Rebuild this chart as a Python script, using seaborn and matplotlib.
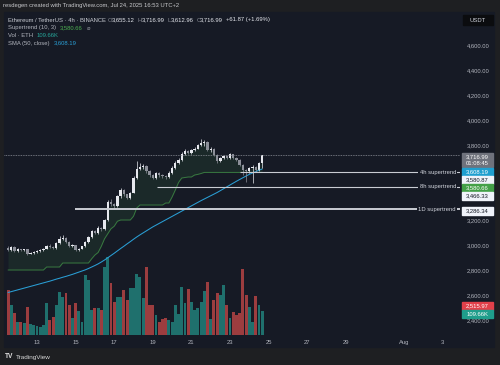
import numpy as np
import pandas as pd
import seaborn as sns
import matplotlib.pyplot as plt
from matplotlib.patches import Rectangle
from matplotlib.transforms import blended_transform_factory

# ETHUSDT 4h candles, x in days of July (first candle Jul 11 12:00)
first_candle = 11.5
opens = [2978, 2960, 2985, 2955, 2968, 2958, 2965, 2930, 2938, 2945,
         2952, 2960, 2972, 2995, 2985, 2976, 3015, 3050, 3058, 3025,
         2990, 3000, 2960, 2970, 2990, 3025, 3065, 3110, 3095, 3140,
         3125, 3200, 3345, 3325, 3310, 3390, 3440, 3405, 3380, 3420,
         3540, 3610, 3625, 3630, 3590, 3560, 3540, 3575, 3560, 3550,
         3545, 3580, 3620, 3660, 3680, 3730, 3755, 3735, 3760, 3772,
         3800, 3820, 3825, 3760, 3770, 3720, 3670, 3695, 3710, 3695,
         3725, 3700, 3680, 3640, 3600, 3590, 3615, 3625, 3600, 3655.12]
closes = [2960, 2985, 2955, 2968, 2958, 2965, 2930, 2938, 2945, 2952,
          2960, 2972, 2995, 2985, 2976, 3015, 3050, 3058, 3025, 2990,
          3000, 2960, 2970, 2990, 3025, 3065, 3110, 3095, 3140, 3125,
          3200, 3345, 3325, 3310, 3390, 3440, 3405, 3380, 3420, 3540,
          3610, 3625, 3630, 3590, 3560, 3540, 3575, 3560, 3550, 3545,
          3580, 3620, 3660, 3680, 3730, 3755, 3735, 3760, 3772, 3800,
          3820, 3825, 3760, 3770, 3720, 3670, 3695, 3710, 3695, 3725,
          3700, 3680, 3640, 3600, 3590, 3615, 3625, 3600, 3655.12, 3716.99]
highs = [2990, 2995, 2992, 2975, 2972, 2972, 2968, 2945, 2950, 2958,
         2966, 2978, 3002, 3005, 2992, 3022, 3075, 3080, 3062, 3030,
         3008, 3004, 2978, 2996, 3032, 3072, 3120, 3118, 3150, 3148,
         3210, 3360, 3372, 3340, 3400, 3455, 3448, 3412, 3428, 3552,
         3670, 3660, 3648, 3638, 3598, 3572, 3585, 3582, 3570, 3562,
         3592, 3630, 3672, 3695, 3742, 3768, 3762, 3770, 3785, 3812,
         3850, 3838, 3830, 3782, 3776, 3728, 3702, 3722, 3718, 3735,
         3732, 3708, 3686, 3648, 3612, 3625, 3640, 3632, 3665, 3716.99]
lows = [2950, 2955, 2948, 2945, 2950, 2952, 2922, 2925, 2932, 2940,
        2948, 2955, 2968, 2978, 2968, 2972, 3010, 3040, 3018, 2982,
        2984, 2952, 2955, 2965, 2985, 3020, 3058, 3085, 3090, 3115,
        3120, 3195, 3310, 3290, 3305, 3380, 3395, 3365, 3372, 3415,
        3532, 3600, 3605, 3580, 3545, 3525, 3532, 3548, 3538, 3530,
        3540, 3572, 3612, 3652, 3675, 3722, 3725, 3728, 3750, 3765,
        3792, 3790, 3750, 3745, 3712, 3660, 3662, 3688, 3685, 3690,
        3692, 3670, 3630, 3560, 3505, 3575, 3500, 3585, 3592, 3612.96]
volumes_k = [206, 137, 100, 59, 59, 55, 128, 50, 46, 41,
             37, 46, 146, 69, 82, 137, 197, 174, 192, 137,
             78, 146, 110, 59, 274, 251, 114, 123, 123, 114,
             311, 356, 238, 151, 174, 174, 206, 160, 215, 215,
             279, 265, 169, 311, 137, 137, 91, 59, 73, 78,
             69, 59, 137, 96, 219, 146, 210, 151, 114, 123,
             151, 201, 242, 73, 160, 192, 183, 228, 137, 78,
             105, 91, 100, 302, 183, 128, 59, 178, 137, 109.66]
sma50 = [2620, 2627, 2634, 2641, 2648, 2655, 2662, 2669, 2676, 2683,
         2690, 2697, 2704, 2711, 2719, 2727, 2734, 2742, 2749, 2757,
         2765, 2774, 2783, 2792, 2801, 2812, 2824, 2836, 2849, 2864,
         2880, 2898, 2916, 2934, 2953, 2972, 2990, 3009, 3027, 3046,
         3064, 3081, 3097, 3113, 3129, 3145, 3159, 3173, 3187, 3201,
         3215, 3229, 3243, 3257, 3271, 3285, 3299, 3313, 3327, 3341,
         3355, 3368, 3381, 3394, 3407, 3420, 3435, 3450, 3465, 3480,
         3495, 3510, 3524, 3538, 3552, 3565, 3576, 3587, 3598, 3608.19]
supertrend = [2800, 2800, 2800, 2800, 2800, 2800, 2800, 2800, 2800, 2800,
              2800, 2800, 2824, 2824, 2824, 2824, 2824, 2856, 2856, 2856,
              2856, 2856, 2856, 2856, 2856, 2856, 2890, 2920, 2940, 2990,
              3050, 3090, 3130, 3150, 3190, 3200, 3200, 3200, 3200, 3230,
              3296, 3320, 3320, 3320, 3320, 3320, 3320, 3320, 3320, 3336,
              3336, 3384, 3440, 3500, 3536, 3540, 3544, 3544, 3560, 3565,
              3572, 3580.66, 3580.66, 3580.66, 3580.66, 3580.66, 3580.66, 3580.66, 3580.66, 3580.66,
              3580.66, 3580.66, 3580.66, 3580.66, 3580.66, 3580.66, 3580.66, 3580.66, 3580.66, 3580.66]

price_ticks = [2400, 2600, 2800, 3000, 3200, 3800, 4000, 4200, 4400, 4600]
date_ticks = [13, 15, 17, 19, 21, 23, 25, 27, 29, 32, 34]
date_labels = ['13', '15', '17', '19', '21', '23', '25', '27', '29', 'Aug', '3']

level_names = ['4h supertrend', '8h supertrend', '1D supertrend']
level_prices = [3580.87, 3466.33, 3286.34]
level_starts = [23.52, 19.2, 14.97]
last_price = 3716.99
countdown = '01:08:45'

# boxes on the price scale (text, fill, text colour, centre y in px)
box_texts = ['3,716.99', '3,608.19', '3,580.87', '3,580.66',
             '3,466.33', '3,286.34', '2,515.97', '109.66K']
box_fills = ['#6f727c', '#1f9fcf', '#f0f3fa', '#43a047',
             '#f0f3fa', '#f0f3fa', '#e2404a', '#1f9e8c']
box_inks = ['white', 'white', '#131722', 'white',
            '#131722', '#131722', 'white', 'white']
box_y = [157, 171.5, 179.5, 187.5, 195.5, 210.5, 306, 314]

df = pd.DataFrame({
    't': first_candle + np.arange(len(closes)) / 6,
    'open': opens, 'high': highs, 'low': lows, 'close': closes,
    'vol': volumes_k, 'sma': sma50, 'st': supertrend,
})

sns.set_theme(style='dark')
plt.rcParams['font.family'] = ['Liberation Sans', 'DejaVu Sans']

W, H = 500, 365
PANE = '#161a25'
FRAME = '#1e1f22'
TXT = '#b2b5be'
FS = 4.2


def fx(x):
    return x / W


def fy(y):
    return 1 - y / H


fig = plt.figure(figsize=(5, 3.65), dpi=100, facecolor=FRAME)
fig.add_artist(Rectangle((fx(4), fy(347)), fx(490), fy(12) - fy(347),
                         transform=fig.transFigure, color=PANE, zorder=-5))

ax = fig.add_axes([fx(4), fy(335), fx(456), fy(12) - fy(335)])
axv = ax.twinx()
ax.set_zorder(axv.get_zorder() + 1)
ax.patch.set_visible(False)

# volume
up = df['close'] >= df['open']
vol_colors = np.where(up, '#26a69a', '#ef5350')
axv.bar(df['t'], df['vol'], width=0.15, color=vol_colors, alpha=0.62, linewidth=0)
axv.set_ylim(0, 1476)
axv.set_axis_off()

# supertrend fill + line, SMA
mid = (df['open'] + df['close']) / 2
ax.fill_between(df['t'], df['st'], mid, color='#4caf50', alpha=0.1, linewidth=0)
sns.lineplot(data=df, x='t', y='st', ax=ax, color='#4caf50', alpha=0.6,
             linewidth=0.7, estimator=None)
sns.lineplot(data=df, x='t', y='sma', ax=ax, color='#2a9fd6',
             linewidth=0.75, estimator=None)

# candles
candle_colors = np.where(up, '#e6e8ee', '#8c8f99')
ax.vlines(df['t'], df['low'], df['high'], colors=candle_colors, linewidth=0.5)
body_lo = np.minimum(df['open'], df['close'])
body_h = np.maximum(np.abs(df['close'] - df['open']), 4)
ax.bar(df['t'], body_h, bottom=body_lo, width=0.12, color=candle_colors, linewidth=0)

xmax = 34.917
ax.set_xlim(11.29, xmax)
ax.set_ylim(2280, 4864)

# last price line
ax.axhline(last_price, color='#8a8d96', linewidth=0.6, linestyle=(0, (1, 1)))

# horizontal supertrend levels
lbl_tr = blended_transform_factory(ax.transAxes, ax.transData)
for name, price, start in zip(level_names, level_prices, level_starts):
    lw = 1.4 if name.startswith('1D') else 0.8
    ax.hlines(price, start, xmax, color='#c9ccd3', linewidth=lw)
    ax.text(0.991, price, name, transform=lbl_tr, ha='right', va='center',
            fontsize=FS, color='#d1d4dc',
            bbox=dict(boxstyle='square,pad=0.25', fc=PANE, ec='none'))

# axes styling
for s in ax.spines.values():
    s.set_visible(False)
ax.grid(False)
ax.set_xlabel('')
ax.set_ylabel('')
ax.yaxis.tick_right()
ax.set_yticks(price_ticks)
ax.set_yticklabels([f'{p:,.2f}' for p in price_ticks])
ax.tick_params(axis='y', length=0, pad=5, labelsize=FS, labelcolor=TXT)
ax.set_xticks(date_ticks)
ax.set_xticklabels(date_labels)
ax.tick_params(axis='x', length=0, pad=3.5, labelsize=FS, labelcolor=TXT)

# price scale boxes
fig.add_artist(Rectangle((fx(463), fy(25)), fx(30), fy(15) - fy(25),
                         transform=fig.transFigure, color='#0b0c0f', zorder=5))
fig.text(fx(478), fy(20), 'USDT', ha='center', va='center', fontsize=FS,
         color='#d1d4dc', zorder=6)
# last price box has the bar countdown under the price
fig.add_artist(Rectangle((fx(462), fy(167)), fx(31), fy(152.5) - fy(167),
                         transform=fig.transFigure, color=box_fills[0], zorder=5))
fig.text(fx(477.5), fy(163.5), countdown, ha='center', va='center', fontsize=FS,
         color='white', zorder=6)
for txt, fc, ink, cy in zip(box_texts, box_fills, box_inks, box_y):
    if cy != box_y[0]:
        fig.add_artist(Rectangle((fx(462), fy(cy + 4)), fx(31), fy(cy - 4) - fy(cy + 4),
                                 transform=fig.transFigure, color=fc, zorder=5))
    fig.text(fx(477.5), fy(cy), txt, ha='center', va='center', fontsize=FS,
             color=ink, zorder=6)

# title bar and legend header
fig.text(fx(3), fy(6), 'resdegen created with TradingView.com, Jul 24, 2025 16:53 UTC+2',
         fontsize=FS, color='#c8c9cc', va='center')

head = [
    (8, 20, 'Ethereum / TetherUS · 4h · BINANCE', '#c9ccd3'),
    (108, 20, 'O', '#8a8d96'), (112, 20, '3,655.12', '#e6e8ee'),
    (138, 20, 'H', '#8a8d96'), (142, 20, '3,716.99', '#e6e8ee'),
    (168, 20, 'L', '#8a8d96'), (171, 20, '3,612.96', '#e6e8ee'),
    (197, 20, 'C', '#8a8d96'), (200, 20, '3,716.99', '#e6e8ee'),
    (226, 20, '+61.87 (+1.69%)', '#e6e8ee'),
    (8, 28, 'Supertrend (10, 3)', '#b2b5be'), (60, 28, '3,580.66', '#4caf50'),
    (87, 28, '⌀', '#8a8d96'),
    (8, 35.5, 'Vol · ETH', '#b2b5be'), (37, 35.5, '109.66K', '#26a69a'),
    (8, 43, 'SMA (50, close)', '#b2b5be'), (54, 43, '3,608.19', '#2a9fd6'),
]
for x, y, s, c in head:
    fig.text(fx(x), fy(y), s, fontsize=FS, color=c, va='center')

# footer logo
fig.text(fx(5), fy(357), 'TV', fontsize=4.8, color='#e0e0e0', va='center', weight='bold')
fig.text(fx(16), fy(357), 'TradingView', fontsize=4.6, color='#d8d8d8', va='center')

fig.savefig('out.png', dpi=100, facecolor=FRAME)
